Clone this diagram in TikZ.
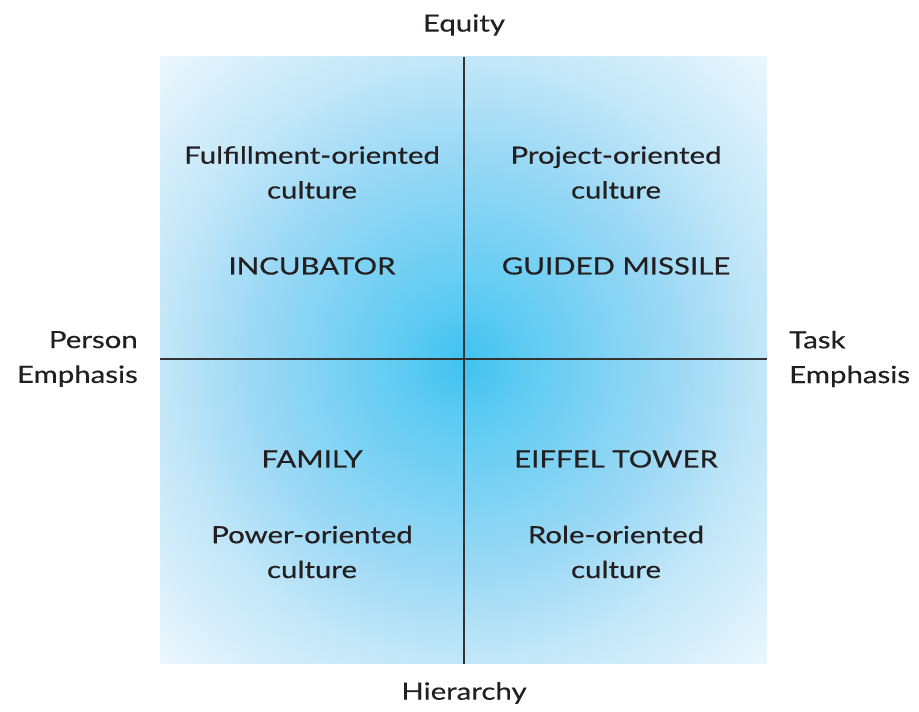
\documentclass[tikz,border=0pt]{standalone}
\usepackage{fontspec}
\setmainfont{Lato}[FakeStretch=1.24, FakeBold=0.4]
\usepackage{xcolor}

\definecolor{glowA}{HTML}{3FC2F0}
\definecolor{glowB}{HTML}{5ECBF2}
\definecolor{glowC}{HTML}{9DD9F5}
\definecolor{glowD}{HTML}{C3E7F8}
\definecolor{glowE}{HTML}{ECF7FD}
\definecolor{inkgray}{HTML}{231F20}
\definecolor{axisgray}{HTML}{333333}

\pgfdeclareradialshading{quadglow}{\pgfpoint{0bp}{0bp}}{%
  color(0bp)=(glowA); color(5bp)=(glowB); color(17.7bp)=(glowC);
  color(25bp)=(glowD); color(35.5bp)=(glowE); color(50bp)=(white)}

\tikzset{
  quadtext/.style={text=inkgray, font=\fontsize{13.5}{19.8}\selectfont, align=center},
  axistext/.style={quadtext},
  axisline/.style={axisgray, line width=1.1pt}
}

\begin{document}
\begin{tikzpicture}
\useasboundingbox (0,0) rectangle (18.38,14.24);

\shade[shading=quadglow] (3.2,0.96) rectangle (15.34,13.1);

\coordinate (top) at (9.28,13.1);
\coordinate (bot) at (9.28,0.96);
\coordinate (lft) at (3.2,7.06);
\coordinate (rgt) at (15.34,7.06);

\draw[axisline] (top) -- (bot);
\draw[axisline] (lft) -- (rgt);

% axis labels
\node[axistext] (equity) at (9.28,13.74) {Equity};
\node[axistext] (hierarchy) at (9.28,0.38) {Hierarchy};
\node[axistext, anchor=east, align=right] (person) at (2.88,7.06) {Person\\Emphasis};
\node[axistext, anchor=west, align=left] (task) at (15.66,7.06) {Task\\Emphasis};

% quadrants
\node[quadtext] (fulfil) at (6.24,10.79) {Fulfillment-oriented\\culture};
\node[quadtext] (incubator) at (6.24,8.92) {INCUBATOR};
\node[quadtext] (project) at (12.32,10.79) {Project-oriented\\culture};
\node[quadtext] (missile) at (12.32,8.92) {GUIDED MISSILE};
\node[quadtext] (family) at (6.24,5.06) {FAMILY};
\node[quadtext] (power) at (6.24,3.2) {Power-oriented\\culture};
\node[quadtext] (eiffel) at (12.32,5.06) {EIFFEL TOWER};
\node[quadtext] (role) at (12.32,3.2) {Role-oriented\\culture};
\end{tikzpicture}
\end{document}
